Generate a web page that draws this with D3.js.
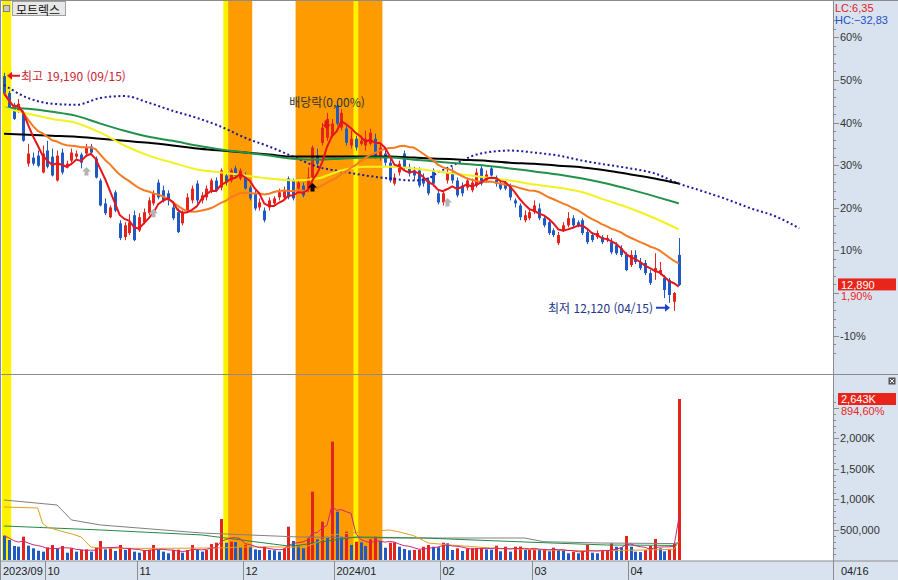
<!DOCTYPE html>
<html lang="ko"><head><meta charset="utf-8">
<script src="https://cdn.jsdelivr.net/npm/d3@7/dist/d3.min.js"></script>
<style>
html,body{margin:0;padding:0;background:#fff;}
svg{display:block;}
.num{font-family:"Liberation Sans",Arial,sans-serif;font-size:11px;}
.kr{font-family:"Noto Sans CJK KR","Noto Sans",sans-serif;font-size:12px;}
</style></head><body>
<svg id="chart" width="898" height="580"></svg>
<script>
// ---------------- DATA ----------------
const stockName = "모트렉스";
const openP = [19090,18590,18240,18060,17970,16490,16670,16730,16230,16880,
16700,15990,16820,16380,16580,16700,16760,16790,17000,16640,
15990,15310,14900,15640,14720,14310,14430,14960,14510,14750,
15020,15310,15930,15700,15610,15190,15050,14720,15100,15400,
15900,15400,15490,15700,15990,15780,16140,15990,16350,16050,
16140,15780,15610,15190,15100,15190,15310,15490,15490,16050,
15990,15750,15840,15700,16080,16730,17110,17260,17320,18210,
17560,17530,17030,17230,17080,17030,17080,17230,16730,16790,
16520,15900,16230,16790,16380,16290,16290,16050,15990,16290,
15610,15340,15990,16230,15990,15840,15780,15700,15840,16350,
15990,16350,16080,15900,15930,15840,15400,15250,14810,14870,
15050,15160,14870,14750,14510,14130,14510,14660,14870,14750,
14810,14460,14370,14310,14310,14220,14160,14070,13980,13780,
13480,13780,13570,13540,13240,13270,13240,13100,13040,12390,
13780];
const highP = [19190,18650,18300,18410,18060,17080,16820,16880,17030,17170,
16940,16880,16940,16580,16940,16880,16820,17080,17080,16700,
16050,15460,15250,15700,14810,14750,14990,15100,15020,15160,
15490,15700,16020,15840,15700,15310,15160,15100,15610,15840,
15990,15640,15840,16050,16080,16350,16230,16350,16430,16350,
16230,15840,15700,15460,15190,15490,15520,15750,15810,16110,
16050,15990,15930,16380,17030,16940,17700,18000,17820,18360,
18120,17620,17470,17320,17320,17470,17530,17380,17080,16880,
16640,16200,16580,16880,16490,16400,16380,16200,16080,16350,
15700,15700,16350,16380,16080,15930,16080,16050,16350,16430,
16290,16430,16140,15990,15990,15900,15460,15310,15100,15160,
15400,15310,14960,14810,14570,14460,14750,15050,14960,14810,
14870,14570,14460,14510,14370,14370,14280,14160,14070,13860,
13920,13920,13690,13630,13330,13830,13570,13180,13100,12680,
14280];
const lowP = [18500,18090,17790,18000,17140,16400,16430,16380,16200,16350,
16110,15960,16170,16350,16520,16640,16350,16730,16790,16050,
15220,14960,14870,15050,14220,14220,14370,14190,14460,14690,
14960,15250,15430,15340,15250,14810,14430,14660,15050,15310,
15310,15310,15400,15610,15640,15700,15840,15930,16050,15990,
15720,15400,15100,15100,14750,15100,15250,15400,15400,15430,
15400,15700,15490,15640,15990,16400,17030,17170,17260,17620,
17470,17030,16940,16880,17030,16880,17030,16640,16580,16430,
15930,15840,16140,16290,16110,15990,15780,15810,15550,15810,
15280,15250,15900,15900,15490,15520,15700,15640,15780,15840,
15930,16110,15810,15700,15700,15400,15190,14810,14750,14810,
14990,14810,14600,14370,14310,14070,14460,14600,14600,14600,
14370,14100,14160,14250,14100,14160,13800,13780,13720,13300,
13420,13510,13330,13180,12890,13040,13180,12500,12360,12120,
12860];
const closeP = [18590,18150,17820,18270,17170,16790,16490,16430,16790,16400,
16140,16730,16230,16490,16820,16790,16520,16970,16820,16080,
15250,15020,15190,15100,14280,14660,14750,14220,14900,15050,
15400,15610,15490,15400,15400,14870,14460,15020,15490,15750,
15400,15550,15750,15990,15700,16290,15930,16290,16140,16290,
15750,15460,15160,15340,14810,15400,15460,15640,15700,15490,
15460,15930,15550,16080,16970,16490,17560,17820,17680,17680,
18000,17110,17230,16970,17170,17230,17410,16730,16970,16520,
15990,16080,16490,16380,16200,16140,15840,15900,15610,15900,
15340,15610,16230,15990,15550,15610,15990,15930,16230,15900,
16170,16140,15900,15750,15750,15490,15310,14900,14960,15050,
15250,14870,14660,14430,14370,14370,14660,14870,14660,14660,
14430,14160,14220,14430,14160,14280,13860,13830,13780,13330,
13780,13570,13390,13240,12950,13390,13330,12740,12590,12650,
12890];
const volume = [399000,328000,230000,218000,383000,235000,192000,153000,137000,208000,
246000,192000,230000,120000,192000,137000,164000,175000,137000,202000,
312000,175000,192000,148000,246000,164000,192000,137000,120000,160000,
170000,246000,164000,137000,110000,164000,170000,120000,164000,246000,
164000,137000,164000,262000,284000,673000,284000,301000,295000,208000,
246000,218000,175000,164000,218000,164000,160000,137000,192000,547000,
312000,240000,192000,356000,1121000,340000,629000,383000,1943000,793000,
383000,465000,246000,300000,290000,230000,340000,383000,312000,202000,
284000,290000,218000,181000,160000,164000,170000,218000,246000,218000,
210000,284000,274000,164000,192000,148000,192000,195000,198000,200000,
175000,170000,235000,143000,218000,137000,218000,220000,164000,175000,
178000,164000,175000,143000,202000,164000,160000,110000,137000,110000,
148000,246000,120000,110000,148000,150000,274000,218000,210000,394000,
218000,137000,130000,164000,230000,345000,192000,143000,175000,265735,
2643000];

// month axis labels and the candle index where each month starts
const monthLabels = ["2023/09","10","11","12","2024/01","02","03","04"];
const monthStart  = [0,9,28,50,69,91,110,130];
const highDate = "09/15", lowDate = "04/15", lastDate = "04/16";

// long moving-average lines (candle index -> price)
const longIdx = [0,5,10,15,20,25,30,35,40,45,50,55,60,65,70,75,80,85,90,95,100,105,110,115,120,125,130,135,140];
const maYellow = [18150,17970,17820,17700,17410,17030,16730,16520,16320,16230,16140,16050,15990,16050,16290,16400,16400,16350,16260,16170,16080,15990,15870,15780,15640,15400,15160,14870,14540];
const maGreen  = [18150,18120,18030,17910,17680,17470,17290,17170,17030,16910,16820,16730,16640,16610,16640,16670,16670,16610,16550,16490,16430,16350,16260,16170,16050,15900,15720,15520,15310];
const maBlack  = [17380,17350,17320,17290,17230,17170,17110,17030,16940,16880,16820,16760,16700,16700,16700,16700,16700,16670,16640,16610,16580,16520,16490,16430,16380,16290,16170,16050,15900];
// leading (shifted) dotted line
const leadIdx = [0,5,10,15,20,25,30,35,40,45,50,55,60,65,70,75,80,85,88,90,93,95,98,100,105,110,115,120,125,130,135,140,145,150,155,160,165];
const leadLine = [18830,18440,18270,18240,18440,18500,18300,18060,17850,17590,17260,17000,16700,16400,16260,16140,16050,15990,16050,16230,16430,16580,16760,16820,16880,16820,16730,16580,16460,16350,16200,15900,15670,15430,15160,14930,14570];
// volume average lines (thousand shares)
const vGoldIdx = [0,7,8,9,12,14,16,18,20,30,40,45,50,55,60,63,65,68,70,72,76,80,82,85,88,92,101,110,122,130,139,140];
const vGold    = [870,854,600,540,470,430,378,213,197,190,195,200,215,215,210,225,290,411,430,443,470,493,460,400,279,250,197,170,150,160,175,300];
const vGreenIdx = [0,20,41,59,61,66,73,87,108,125,139,140];
const vGreen    = [558,493,411,230,240,300,378,361,296,246,240,285];
const vGrayIdx = [0,11,14,20,41,61,80,108,112,124,139,140];
const vGray    = [985,903,657,575,443,378,361,361,300,279,270,290];

// signal bands (candle index ranges) and markers
const signalBands = [{from:0,to:1,type:"A"},{from:46,to:46,type:"A"},{from:47,to:51,type:"B"},{from:61,to:78,type:"B"},{from:73,to:73,type:"A"}];
const grayArrowIdx = [17,31,92], grayArrowPrice = [16260,15020,15340];
const blackArrowIdx = [64], blackArrowPrice = [15780];
const exDivIdx = 67, exDivPrice = 17650, exDivText = "배당락(0,00%)";

// ---------------- DRAW ----------------
const RED = "#e4231c", BLUE = "#1f5ac4";
const PL = 2, PR = 833, PT = 1, PB = 374, VT = 375, VB = 560;
const n = closeP.length;
const idx = d3.range(n);
const prevClose = closeP[n-2], lastClose = closeP[n-1];
const lastVol = volume[n-1], prevVol = volume[n-2];
const maxHigh = d3.max(highP), minLow = d3.min(lowP);
const iHigh = highP.indexOf(maxHigh), iLow = lowP.indexOf(minLow);
const comma = s => s.replace(".", ",");

const x = d3.scaleLinear().domain([0, n-1]).range([4, 678.8]);
const yP = d3.scaleLinear().domain([prevClose, prevClose*1.6]).range([293, 37.4]);
const yV = d3.scaleLinear().domain([0, lastVol]).range([560, 399]);

const svg = d3.select("#chart");
svg.append("rect").attr("width",898).attr("height",580).attr("fill","#fff");
const defs = svg.append("defs");
defs.append("clipPath").attr("id","cp").append("rect").attr("x",PL).attr("y",PT).attr("width",PR-PL).attr("height",PB-PT);
defs.append("clipPath").attr("id","cv").append("rect").attr("x",PL).attr("y",VT).attr("width",PR-PL).attr("height",VB-VT);
defs.append("clipPath").attr("id","cb").append("rect").attr("x",PL).attr("y",PT).attr("width",PR-PL).attr("height",VB-PT);

// bands
const bandFill = {A:"#fff200", B:"#fd9b00"};
svg.append("g").attr("clip-path","url(#cb)").selectAll("rect").data(signalBands).join("rect")
  .attr("x", d=>x(d.from-0.5)).attr("width", d=>x(d.to+0.5)-x(d.from-0.5))
  .attr("y", PT).attr("height", VB-PT).attr("fill", d=>bandFill[d.type]);

// price panel
const gP = svg.append("g").attr("clip-path","url(#cp)");
const up = i => closeP[i] >= openP[i];
gP.selectAll("line.w").data(idx).join("line").attr("class","w")
  .attr("x1", i=>Math.round(x(i))+0.5).attr("x2", i=>Math.round(x(i))+0.5)
  .attr("y1", i=>yP(highP[i])).attr("y2", i=>yP(lowP[i]))
  .attr("stroke", i=>up(i)?RED:BLUE).attr("stroke-width",1);
gP.selectAll("rect.b").data(idx).join("rect").attr("class","b")
  .attr("x", i=>Math.round(x(i))-1).attr("width",3)
  .attr("y", i=>yP(Math.max(openP[i],closeP[i])))
  .attr("height", i=>Math.max(1, Math.abs(yP(openP[i])-yP(closeP[i]))))
  .attr("fill", i=>up(i)?RED:BLUE);

function sma(arr,k){ return arr.map((_,i)=>d3.mean(arr.slice(Math.max(0,i-k+1), i+1))); }
const ma5 = sma(closeP,5), ma20 = sma(closeP,20);
const lineP = d3.line().x(d=>x(d[0])).y(d=>yP(d[1]));
const lineS = d3.line().x(d=>x(d[0])).y(d=>yP(d[1])).curve(d3.curveMonotoneX);
const pairs = (ix, vals) => ix.map((k,j)=>[k, vals[j]]);

gP.append("path").attr("d", lineS(pairs(leadIdx, leadLine))).attr("fill","none")
  .attr("stroke","#1c1ca0").attr("stroke-width",2).attr("stroke-dasharray","2,2.6");
gP.append("path").attr("d", lineS(pairs(longIdx, maBlack))).attr("fill","none").attr("stroke","#000").attr("stroke-width",2);
gP.append("path").attr("d", lineS(pairs(longIdx, maGreen))).attr("fill","none").attr("stroke","#23914a").attr("stroke-width",2);
gP.append("path").attr("d", lineS(pairs(longIdx, maYellow))).attr("fill","none").attr("stroke","#f2f21e").attr("stroke-width",2);
gP.append("path").attr("d", lineP(idx.map(i=>[i, ma20[i]]))).attr("fill","none").attr("stroke","#f57a22").attr("stroke-width",2);
gP.append("path").attr("d", lineP(idx.map(i=>[i, ma5[i]]))).attr("fill","none").attr("stroke","#e8141c").attr("stroke-width",2);

// arrows
function upArrow(cx, cy){ return `M${cx},${cy-4.5}L${cx+4.5},${cy}L${cx+2},${cy}L${cx+2},${cy+4}L${cx-2},${cy+4}L${cx-2},${cy}L${cx-4.5},${cy}Z`; }
function downArrow(cx, cy){ return `M${cx},${cy+4.5}L${cx+4.5},${cy}L${cx+2},${cy}L${cx+2},${cy-4}L${cx-2},${cy-4}L${cx-2},${cy}L${cx-4.5},${cy}Z`; }
gP.selectAll("path.ga").data(grayArrowIdx).join("path").attr("class","ga")
  .attr("d",(d,j)=>upArrow(Math.round(x(d))+0.5, yP(grayArrowPrice[j]))).attr("fill","#b4b4b4");
gP.selectAll("path.ba").data(blackArrowIdx).join("path").attr("class","ba")
  .attr("d",(d,j)=>upArrow(Math.round(x(d))+0.5, yP(blackArrowPrice[j]))).attr("fill","#000");
gP.append("path").attr("d", downArrow(Math.round(x(exDivIdx))-0.5, yP(exDivPrice))).attr("fill","#e8141c");
gP.append("text").attr("class","kr").attr("x", x(exDivIdx)).attr("y", 101).attr("text-anchor","middle")
  .attr("dominant-baseline","central").attr("fill","#333").text(exDivText);

// high / low annotations
const hx = x(iHigh), hy = yP(maxHigh)+3;
gP.append("path").attr("d",`M${hx+3},${hy}L${hx+8},${hy-4}L${hx+8},${hy-1}L${hx+16},${hy-1}L${hx+16},${hy+1}L${hx+8},${hy+1}L${hx+8},${hy+4}Z`).attr("fill","#e8141c");
gP.append("text").attr("class","kr").attr("x", hx+17).attr("y", hy).attr("dominant-baseline","central")
  .attr("fill","#cc2233").text(`최고 ${d3.format(",")(maxHigh)} (${highDate})`);
const lx = x(iLow), ly = yP(minLow)-3;
gP.append("path").attr("d",`M${lx-4},${ly}L${lx-9},${ly-4}L${lx-9},${ly-1}L${lx-18},${ly-1}L${lx-18},${ly+1}L${lx-9},${ly+1}L${lx-9},${ly+4}Z`).attr("fill","#1f3fd0");
gP.append("text").attr("class","kr").attr("x", lx-21).attr("y", ly).attr("text-anchor","end").attr("dominant-baseline","central")
  .attr("fill","#23348a").text(`최저 ${d3.format(",")(minLow)} (${lowDate})`);

// volume panel
const gV = svg.append("g").attr("clip-path","url(#cv)");
const vUp = i => i>0 && volume[i] >= volume[i-1];
gV.selectAll("rect").data(idx).join("rect")
  .attr("x", i=>Math.round(x(i))-1).attr("width",3)
  .attr("y", i=>yV(volume[i])).attr("height", i=>yV(0)-yV(volume[i]))
  .attr("fill", i=>vUp(i)?RED:BLUE);
const lineV = d3.line().x(d=>x(d[0])).y(d=>yV(d[1]*1000));
gV.append("path").attr("d", lineV(pairs(vGrayIdx, vGray))).attr("fill","none").attr("stroke","#808080").attr("stroke-width",1);
gV.append("path").attr("d", lineV(pairs(vGreenIdx, vGreen))).attr("fill","none").attr("stroke","#238a45").attr("stroke-width",1);
gV.append("path").attr("d", lineV(pairs(vGoldIdx, vGold))).attr("fill","none").attr("stroke","#e0a020").attr("stroke-width",1);
const vma5 = sma(volume,5);
gV.append("path").attr("d", d3.line().x(i=>x(i)).y(i=>yV(vma5[i]))(idx)).attr("fill","none").attr("stroke","#c8287e").attr("stroke-width",1);

// frame / panels
const lineC = "#8c8c8c";
svg.append("rect").attr("x",0).attr("y",561).attr("width",898).attr("height",19).attr("fill","#d9e3f0");
svg.append("rect").attr("x",833).attr("y",0).attr("width",65).attr("height",580).attr("fill","#d9e3f0");
[[0,0.5,898,0.5],[0,374.5,898,374.5],[0,561,898,561],[833.5,0,833.5,580],[0.5,0,0.5,580]].forEach(l=>
  svg.append("line").attr("x1",l[0]).attr("y1",l[1]).attr("x2",l[2]).attr("y2",l[3]).attr("stroke",lineC).attr("stroke-width",1));

// bottom axis
const gX = svg.append("g");
monthStart.forEach((s,j)=>{
  const sx = j===0 ? 1 : Math.round(x(s-0.5))+0.5;
  if(j>0) gX.append("line").attr("x1",sx).attr("x2",sx).attr("y1",561).attr("y2",580).attr("stroke",lineC);
  gX.append("text").attr("class","num").attr("x", sx+2).attr("y",571).attr("dominant-baseline","central")
    .attr("fill","#222").text(monthLabels[j]);
});
gX.append("text").attr("class","num").attr("x",841).attr("y",571).attr("dominant-baseline","central").attr("fill","#222").text(lastDate);

// right price axis
const gR = svg.append("g");
d3.range(-14, 66, 2).forEach(p=>{
  const yy = Math.round(yP(prevClose*(1+p/100)))+0.5;
  if(yy < PT+2 || yy > PB-1) return;
  gR.append("line").attr("x1",833).attr("x2", p%10===0?839:836).attr("y1",yy).attr("y2",yy).attr("stroke",lineC);
});
[-10,10,20,30,40,50,60].forEach(p=>{
  gR.append("text").attr("class","num").attr("x",840).attr("y",yP(prevClose*(1+p/100))).attr("dominant-baseline","central")
    .attr("fill","#333").text((p<0?"-":"")+Math.abs(p)+"%");
});
gR.append("text").attr("class","num").attr("x",835).attr("y",8).attr("dominant-baseline","central").attr("fill","#e0201c")
  .text("LC:"+comma(d3.format(".2f")((lastClose/minLow-1)*100)));
gR.append("text").attr("class","num").attr("x",835).attr("y",20).attr("dominant-baseline","central").attr("fill","#2050c0")
  .text("HC:"+comma(d3.format(".2f")((lastClose/maxHigh-1)*100)));
const ly0 = yP(lastClose);
gR.append("rect").attr("x",838).attr("y",ly0-6.5).attr("width",58).attr("height",12).attr("fill","#e8251b");
gR.append("text").attr("class","num").attr("x",841).attr("y",ly0).attr("dominant-baseline","central").attr("fill","#fff").text(d3.format(",")(lastClose));
gR.append("text").attr("class","num").attr("x",841).attr("y",ly0+11).attr("dominant-baseline","central").attr("fill","#e8251b")
  .text(comma(d3.format(".2f")((lastClose/prevClose-1)*100))+"%");

// right volume axis
d3.range(0, 2700000, 100000).forEach(v=>{
  const yy = Math.round(yV(v))+0.5;
  if(yy < VT+2 || yy > VB-1) return;
  gR.append("line").attr("x1",833).attr("x2", v%500000===0?839:836).attr("y1",yy).attr("y2",yy).attr("stroke",lineC);
});
[500000,1000000,1500000,2000000].forEach(v=>{
  gR.append("text").attr("class","num").attr("x",840).attr("y",yV(v)).attr("dominant-baseline","central").attr("fill","#333")
    .text(v<1000000 ? d3.format(",")(v) : d3.format(",")(v/1000)+"K");
});
const vy0 = yV(lastVol);
gR.append("rect").attr("x",838).attr("y",vy0-6).attr("width",58).attr("height",12).attr("fill","#e8251b");
gR.append("text").attr("class","num").attr("x",841).attr("y",vy0).attr("dominant-baseline","central").attr("fill","#fff").text(d3.format(",")(Math.round(lastVol/1000))+"K");
gR.append("text").attr("class","num").attr("x",841).attr("y",vy0+12).attr("dominant-baseline","central").attr("fill","#e8251b")
  .text(comma(d3.format(".2f")((lastVol/prevVol-1)*100))+"%");
// close box
gR.append("rect").attr("x",888.5).attr("y",377.5).attr("width",7).attr("height",7).attr("fill","#555");
gR.append("path").attr("d","M890,379L894,383M894,379L890,383").attr("stroke","#fff").attr("stroke-width",1);

// title
svg.append("rect").attr("x",3.5).attr("y",5.5).attr("width",6).attr("height",6).attr("fill","#c8c8c8").attr("stroke","#808080");
svg.append("rect").attr("x",12.5).attr("y",1.5).attr("width",53).attr("height",14).attr("fill","#e8e8e8").attr("stroke","#a0a0a0");
svg.append("text").attr("class","kr").attr("x",16).attr("y",9).attr("dominant-baseline","central").attr("fill","#111").text(stockName);
</script></body></html>
